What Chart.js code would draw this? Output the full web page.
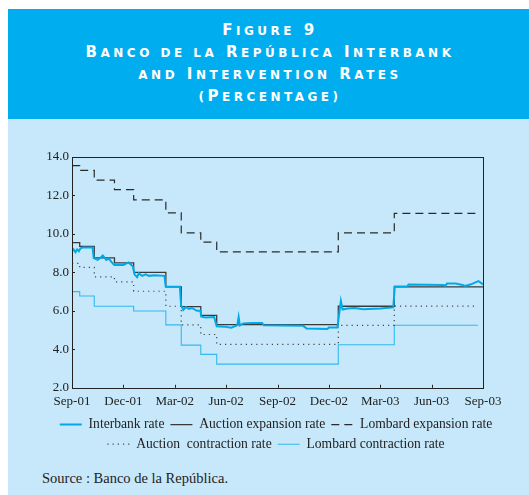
<!DOCTYPE html>
<html>
<head>
<meta charset="utf-8">
<script src="https://cdn.jsdelivr.net/npm/chart.js@4"></script>
<style>
  body { margin: 0; background: #fff; width: 529px; height: 495px; position: relative; overflow: hidden; }
  #header {
    position: absolute; left: 8px; top: 9px; width: 521px; height: 110px;
    background: #00aeef; color: #fff; text-align: center;
    font-family: "DejaVu Sans", sans-serif; font-weight: bold; font-size: 15px;
    letter-spacing: 3.5px; line-height: 21px;
    box-sizing: border-box; padding-top: 11px; padding-left: 3px;
  }
  #header .s { font-size: 12px; text-transform: uppercase; }
  #panel { position: absolute; left: 8px; top: 119px; width: 521px; height: 376px; background: #c7e8fa; }
  #wrap { position: absolute; left: 0; top: 0; width: 536px; height: 342px; }
  #source { position: absolute; left: 34px; top: 351px; font-family: "Liberation Serif", serif; font-size: 14.5px; color: #222; }
</style>
</head>
<body>
<div id="header">F<span class="s">igure</span> 9<br>B<span class="s">anco de la</span> R<span class="s">epública</span> I<span class="s">nterbank</span><br><span class="s">and</span> I<span class="s">ntervention</span> R<span class="s">ates</span><br><span class="s">(</span>P<span class="s">ercentage)</span></div>
<div id="panel">
  <div id="wrap"><canvas id="myChart"></canvas></div>
  <div id="source">Source : Banco de la República.</div>
</div>
<script>
// x values are months counted from September 2001
const monthLabels = ['Sep-01', 'Dec-01', 'Mar-02', 'Jun-02', 'Sep-02', 'Dec-02', 'Mar-03', 'Jun-03', 'Sep-03'];

const interbankMonths = [0.0, 0.1, 0.2, 0.3, 0.4, 0.5, 0.65, 1.2, 1.27, 1.5, 1.65, 1.8, 2.0, 2.15, 2.3, 2.47, 3.0, 3.3, 3.55, 3.65, 3.8, 3.9, 4.1, 4.3, 4.5, 4.8, 5.4, 5.47, 6.3, 6.37, 6.5, 6.65, 6.82, 7.0, 7.3, 7.5, 7.55, 7.8, 8.3, 8.45, 8.9, 9.3, 9.65, 9.73, 9.8, 10.0, 10.5, 11.1, 11.2, 13.5, 13.7, 14.9, 15.0, 15.5, 15.7, 15.8, 16.1, 16.5, 17.0, 18.0, 18.76, 18.85, 19.6, 19.65, 21.7, 21.8, 21.9, 22.4, 22.8, 22.95, 23.3, 23.73, 24.0];
const interbankRates = [9.1, 9.2, 9.05, 9.2, 9.1, 9.25, 9.3, 9.3, 8.75, 8.65, 8.75, 8.88, 8.65, 8.72, 8.55, 8.38, 8.38, 8.52, 8.32, 7.9, 7.75, 7.95, 7.82, 7.9, 7.82, 7.85, 7.82, 7.27, 7.25, 6.3, 6.05, 6.2, 6.1, 6.15, 6.0, 6.0, 5.7, 5.65, 5.68, 5.2, 5.18, 5.12, 5.25, 5.68, 5.25, 5.35, 5.37, 5.37, 5.25, 5.22, 5.08, 5.06, 5.13, 5.13, 6.52, 6.07, 6.12, 6.15, 6.08, 6.12, 6.18, 7.27, 7.28, 7.37, 7.35, 7.3, 7.42, 7.42, 7.35, 7.3, 7.38, 7.55, 7.38];

// step series: month of each change and the new level
const auctionExpMonths = [0, 0.45, 1.3, 2.48, 3.6, 5.48, 6.38, 7.52, 8.45, 15.55, 18.82, 24];
const auctionExpRates = [9.55, 9.35, 8.76, 8.5, 8.0, 7.25, 6.22, 5.77, 5.28, 6.24, 7.25, 7.25];

const lombardExpMonths = [0, 0.45, 1.3, 2.48, 3.6, 5.48, 6.38, 7.52, 8.45, 15.55, 18.82, 23.6];
const lombardExpRates = [13.55, 13.3, 12.8, 12.3, 11.77, 11.1, 10.05, 9.57, 9.07, 10.05, 11.07, 11.07];

const auctionConMonths = [0, 0.45, 1.3, 2.48, 3.6, 5.48, 6.38, 7.52, 8.45, 15.55, 18.82, 23.7];
const auctionConRates = [8.47, 8.26, 7.77, 7.51, 7.02, 6.24, 5.27, 4.77, 4.26, 5.25, 6.25, 6.25];

const lombardConMonths = [0, 0.45, 1.3, 3.6, 5.48, 6.38, 7.52, 8.45, 15.55, 18.82, 23.7];
const lombardConRates = [7.0, 6.77, 6.24, 5.99, 5.27, 4.22, 3.74, 3.23, 4.24, 5.25, 5.25];

function pts(xs, ys) {
    return xs.map((x, i) => ({x: x, y: ys[i]}));
}

// box round the plot plus short inside tick marks
const framePlugin = {
    id: 'frame',
    afterDraw(chart) {
        const {ctx, chartArea: a, scales} = chart;
        ctx.save();
        ctx.strokeStyle = '#222';
        ctx.lineWidth = 1;
        ctx.strokeRect(Math.round(a.left) + 0.5, Math.round(a.top) + 0.5, Math.round(a.right - a.left), Math.round(a.bottom - a.top));
        ctx.beginPath();
        scales.x.ticks.forEach(t => {
            const px = Math.round(scales.x.getPixelForValue(t.value)) + 0.5;
            ctx.moveTo(px, a.bottom);
            ctx.lineTo(px, a.bottom - 3);
        });
        scales.y.ticks.forEach(t => {
            const py = Math.round(scales.y.getPixelForValue(t.value)) + 0.5;
            ctx.moveTo(a.left, py);
            ctx.lineTo(a.left + 3, py);
        });
        ctx.stroke();
        ctx.restore();
    }
};

Chart.defaults.font.family = '"Liberation Serif", "Times New Roman", serif';
Chart.defaults.font.size = 13;
Chart.defaults.color = '#222';

const ctx = document.getElementById('myChart').getContext('2d');
const myChart = new Chart(ctx, {
    type: 'line',
    data: {
        datasets: [{
            label: 'Interbank rate',
            data: pts(interbankMonths, interbankRates),
            borderColor: '#00a9e8',
            backgroundColor: '#00a9e8',
            borderWidth: 2
        }, {
            label: 'Auction expansion rate',
            data: pts(auctionExpMonths, auctionExpRates),
            borderColor: '#3a3a3a',
            backgroundColor: '#3a3a3a',
            borderWidth: 1.3,
            stepped: true
        }, {
            label: 'Lombard expansion rate',
            data: pts(lombardExpMonths, lombardExpRates),
            borderColor: '#2a2a2a',
            backgroundColor: '#2a2a2a',
            borderWidth: 1.2,
            borderDash: [8, 5],
            stepped: true
        }, {
            label: 'Auction  contraction rate',
            data: pts(auctionConMonths, auctionConRates),
            borderColor: '#444',
            backgroundColor: '#444',
            borderWidth: 1.2,
            borderDash: [1.2, 4],
            stepped: true
        }, {
            label: 'Lombard contraction rate',
            data: pts(lombardConMonths, lombardConRates),
            borderColor: '#33b8ef',
            backgroundColor: '#33b8ef',
            borderWidth: 1.1,
            stepped: true
        }]
    },
    options: {
        responsive: true,
        maintainAspectRatio: false,
        animation: false,
        layout: {
            padding: {top: 38, left: 0, right: 0, bottom: 0}
        },
        elements: {
            point: {radius: 0},
            line: {tension: 0}
        },
        scales: {
            x: {
                type: 'linear',
                min: 0,
                max: 24,
                grid: {display: false, drawTicks: false},
                border: {display: false},
                ticks: {
                    stepSize: 3,
                    padding: 6,
                    maxRotation: 0,
                    callback: v => monthLabels[v / 3]
                },
                afterFit: s => { s.height = 24; }
            },
            y: {
                min: 2,
                max: 14,
                grid: {display: false, drawTicks: false},
                border: {display: false},
                ticks: {
                    stepSize: 2,
                    padding: 3,
                    callback: v => v.toFixed(1)
                },
                afterFit: s => { s.width = 64; }
            },
            y2: {
                position: 'right',
                display: true,
                grid: {display: false, drawTicks: false},
                border: {display: false},
                ticks: {display: false},
                afterFit: s => { s.width = 61; }
            }
        },
        plugins: {
            legend: {
                position: 'bottom',
                labels: {
                    usePointStyle: true,
                    pointStyleWidth: 22,
                    pointStyle: 'line',
                    padding: 6,
                    color: '#222',
                    font: {size: 13.6},
                    // keep each dataset's dash pattern in its legend sample
                    generateLabels(chart) {
                        const items = Chart.defaults.plugins.legend.labels.generateLabels(chart);
                        items.forEach(it => {
                            const ds = chart.data.datasets[it.datasetIndex];
                            it.lineDash = ds.borderDash || [];
                            it.lineWidth = ds.borderWidth;
                        });
                        return items;
                    }
                }
            },
            tooltip: {enabled: false}
        }
    },
    plugins: [framePlugin]
});
</script>
</body>
</html>
